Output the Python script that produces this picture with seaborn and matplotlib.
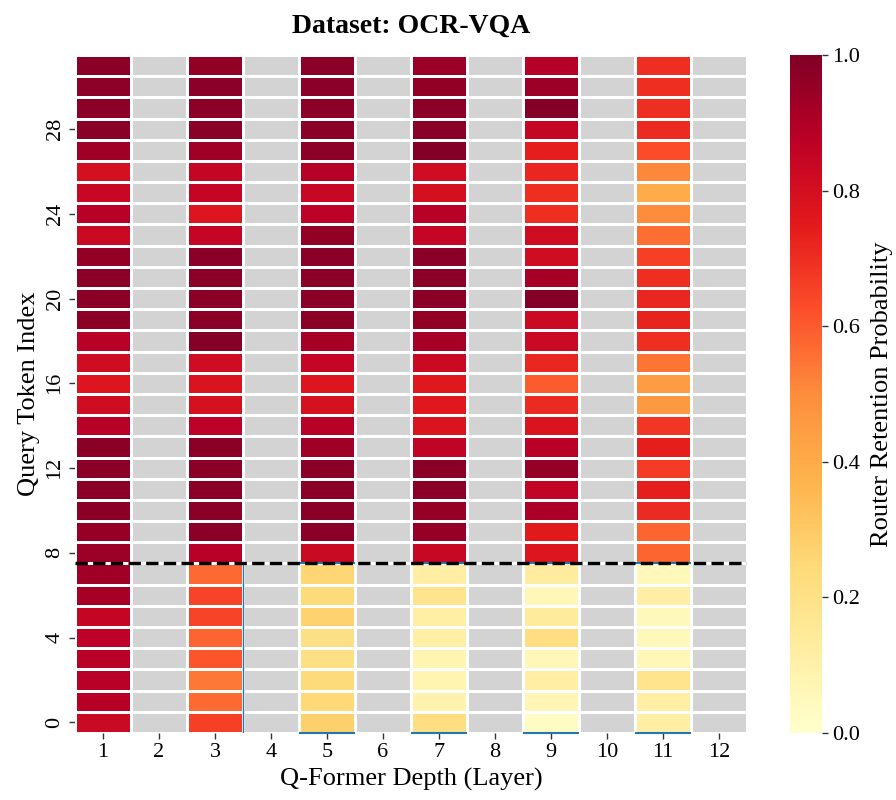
import numpy as np
import pandas as pd
import matplotlib
matplotlib.use("Agg")
import matplotlib.pyplot as plt
import seaborn as sns
from matplotlib.colors import ListedColormap

# query tokens 0..31 (bottom to top), Q-Former layers 1..12
tokens = list(range(32))
layers = list(range(1, 13))

# router retention probability per token, only odd layers have a router
layer1 = [0.83, 0.89, 0.88, 0.88, 0.87, 0.85, 0.92, 0.93,
          0.94, 0.95, 0.97, 0.98, 0.98, 0.98, 0.88, 0.82,
          0.77, 0.82, 0.88, 0.97, 0.98, 0.98, 0.96, 0.83,
          0.88, 0.84, 0.80, 0.93, 0.98, 0.98, 0.97, 0.98]
layer3 = [0.66, 0.57, 0.54, 0.61, 0.58, 0.65, 0.65, 0.57,
          0.88, 0.98, 0.98, 0.98, 0.98, 0.98, 0.87, 0.79,
          0.78, 0.82, 0.99, 0.98, 0.98, 0.98, 0.98, 0.85,
          0.77, 0.85, 0.85, 0.93, 0.98, 0.98, 0.98, 0.96]
layer5 = [0.28, 0.25, 0.24, 0.21, 0.21, 0.27, 0.24, 0.26,
          0.83, 0.98, 0.98, 0.98, 0.98, 0.93, 0.88, 0.79,
          0.77, 0.85, 0.92, 0.98, 0.98, 0.98, 0.98, 0.96,
          0.87, 0.84, 0.89, 0.97, 0.98, 0.98, 0.98, 0.98]
layer7 = [0.22, 0.09, 0.08, 0.08, 0.11, 0.11, 0.18, 0.12,
          0.84, 0.95, 0.95, 0.98, 0.98, 0.86, 0.78, 0.76,
          0.76, 0.83, 0.92, 0.96, 0.98, 0.98, 0.98, 0.85,
          0.88, 0.80, 0.82, 0.99, 0.98, 0.98, 0.96, 0.94]
layer9 = [0.03, 0.07, 0.12, 0.06, 0.22, 0.14, 0.06, 0.13,
          0.77, 0.75, 0.91, 0.86, 0.95, 0.88, 0.78, 0.71,
          0.60, 0.72, 0.83, 0.83, 0.99, 0.92, 0.82, 0.82,
          0.70, 0.70, 0.72, 0.74, 0.85, 0.99, 0.94, 0.89]
layer11 = [0.11, 0.12, 0.18, 0.06, 0.05, 0.05, 0.12, 0.05,
           0.58, 0.58, 0.71, 0.74, 0.67, 0.74, 0.68, 0.46,
           0.45, 0.55, 0.70, 0.73, 0.72, 0.70, 0.66, 0.56,
           0.50, 0.40, 0.51, 0.63, 0.71, 0.70, 0.70, 0.70]

router_layers = {1: layer1, 3: layer3, 5: layer5, 7: layer7, 9: layer9, 11: layer11}
n_text = 8          # first 8 tokens below the split line
outlined = [5, 7, 9, 11]

sns.set_style("white")
plt.rcParams["font.family"] = "serif"
plt.rcParams["font.serif"] = ["Liberation Serif", "DejaVu Serif"]
plt.rcParams["text.color"] = "black"
plt.rcParams["axes.labelcolor"] = "black"
plt.rcParams["xtick.color"] = "black"
plt.rcParams["ytick.color"] = "black"

data = pd.DataFrame(np.nan, index=tokens, columns=layers)
for layer, vals in router_layers.items():
    data[layer] = vals
skipped = data.isna()

fig = plt.figure(figsize=(8.96, 8), dpi=100)
ax = fig.add_axes([0.0837, 0.0838, 0.75, 0.8475])
cax = fig.add_axes([0.8817, 0.0838, 0.0357, 0.8475])

# grey cells for layers without a router
sns.heatmap(skipped.astype(float), mask=~skipped, cmap=ListedColormap(["lightgray"]),
            cbar=False, linewidths=1, linecolor="white", ax=ax)
sns.heatmap(data, mask=skipped, cmap="YlOrRd", vmin=0, vmax=1,
            linewidths=1, linecolor="white", ax=ax, cbar_ax=cax)
ax.set_ylim(0, len(tokens))

# thin outlines around the low-retention block
for layer in outlined:
    ax.hlines([0, n_text], layer - 1, layer, color="#1f77b4", linewidth=1.5, zorder=3, clip_on=False)
ax.vlines(3, 0, n_text, color="#1f77b4", linewidth=1, zorder=3)
ax.axhline(n_text, color="black", linestyle="--", linewidth=2.4, zorder=4)

ax.set_xticks(np.arange(len(layers)) + 0.5)
ax.set_xticklabels(layers, rotation=0)
ax.set_yticks(np.arange(0, len(tokens), 4) + 0.5)
ax.set_yticklabels(tokens[::4], rotation=90, va="center")
ax.tick_params(axis="both", labelsize=16, length=4, width=1, left=True, bottom=True, color="#333333")

ax.set_xlabel("Q-Former Depth (Layer)", fontsize=19)
ax.set_ylabel("Query Token Index", fontsize=19)
ax.set_title("Dataset: OCR-VQA", fontsize=20, fontweight="bold", pad=16)

cax.tick_params(labelsize=16, length=4, width=1, right=True, color="#333333")
cax.set_yticks([0, 0.2, 0.4, 0.6, 0.8, 1.0])
cax.set_yticklabels(["0.0", "0.2", "0.4", "0.6", "0.8", "1.0"])
cax.set_ylabel("Router Retention Probability", fontsize=19, labelpad=8)

fig.savefig("out.png", dpi=100)
